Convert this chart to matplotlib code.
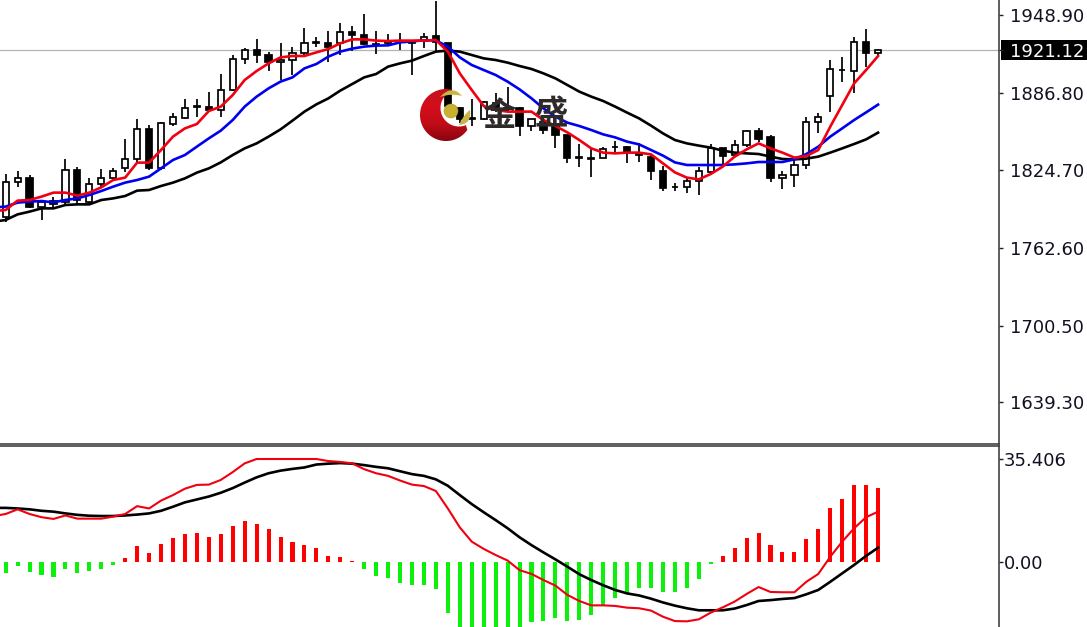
import numpy as np
import matplotlib
matplotlib.use("Agg")
import matplotlib.pyplot as plt
from matplotlib.path import Path
from matplotlib.patches import PathPatch, Circle, Rectangle
from matplotlib.transforms import blended_transform_factory

# ---------- data ----------
opens = [1787.6,1815.6,1818.5,1795.0,1799.8,1799.6,1825.2,1799.6,1813.4,1818.2,1826.8,1833.4,1857.4,1826.8,1861.7,1866.8,1875.0,1875.6,1872.6,1889.2,1913.7,1920.6,1916.6,1911.0,1913.2,
         1918.2,1926.8,1926.5,1926.8,1935.0,1933.2,1925.6,1926.2,1927.5,1927.8,1928.4,1932.1,1926.2,1874.2,1866.2,1865.4,1878.8,1874.4,1874.8,1860.1,1863.6,1860.9,1852.9,1835.2,1834.4,
         1834.8,1843.1,1843.3,1838.8,1835.6,1824.4,1811.5,1811.6,1816.4,1823.6,1842.2,1836.6,1844.9,1855.8,1851.0,1818.2,1820.6,1828.9,1863.0,1884.1,1904.9,1904.4,1927.3,1918.8]
highs = [1821.7,1824.4,1820.6,1800.9,1803.6,1834.0,1827.0,1818.8,1825.4,1826.2,1850.0,1865.4,1860.6,1863.6,1870.2,1881.7,1881.7,1887.3,1901.7,1916.6,1922.8,1929.4,1919.6,1926.5,1923.6,
         1938.2,1931.0,1935.8,1942.8,1940.1,1949.7,1936.1,1933.4,1934.8,1928.9,1934.2,1960.1,1926.8,1875.6,1881.7,1880.1,1886.2,1891.0,1875.6,1865.9,1867.6,1861.2,1853.2,1845.7,1842.2,
         1843.6,1848.4,1844.1,1846.2,1836.9,1828.1,1814.2,1818.2,1827.6,1845.4,1842.4,1848.9,1856.9,1858.8,1852.9,1824.4,1833.4,1867.0,1870.2,1912.9,1915.0,1931.0,1938.0,1922.0]
lows = [1783.6,1811.6,1794.2,1784.9,1794.2,1797.7,1797.7,1798.2,1811.6,1816.9,1823.6,1830.2,1824.9,1824.9,1860.1,1865.4,1867.6,1872.1,1867.0,1888.4,1909.7,1910.8,1904.4,1896.9,1900.9,
        1916.9,1923.0,1911.6,1916.9,1920.4,1924.9,1917.4,1924.9,1920.9,1901.2,1922.8,1919.6,1871.6,1862.2,1860.1,1864.9,1871.6,1871.6,1852.4,1856.4,1853.7,1842.8,1830.2,1827.6,1819.0,
        1834.2,1839.3,1830.2,1831.0,1816.9,1808.4,1808.4,1806.8,1804.9,1822.2,1828.1,1835.6,1843.6,1847.6,1815.0,1809.4,1811.6,1825.7,1854.2,1871.6,1895.3,1886.2,1907.6,1916.1]
closes = [1815.6,1818.5,1795.6,1799.0,1797.7,1825.2,1800.9,1813.7,1818.5,1824.4,1833.7,1857.4,1826.8,1862.2,1867.0,1874.8,1875.8,1872.6,1889.2,1913.7,1920.6,1916.6,1911.3,1913.2,1918.8,
          1926.2,1927.3,1923.3,1935.0,1932.9,1925.4,1925.2,1928.4,1927.9,1926.5,1931.6,1927.6,1876.1,1865.4,1865.8,1879.6,1872.9,1874.0,1860.1,1865.4,1856.9,1852.9,1834.2,1834.8,1834.0,
          1841.4,1843.5,1839.6,1836.6,1823.8,1810.2,1811.1,1815.8,1824.4,1842.2,1836.4,1845.2,1855.8,1850.0,1818.2,1820.9,1829.2,1863.3,1867.0,1905.4,1905.3,1927.3,1918.8,1921.12]

# moving averages (first value belongs to the bar just left of the visible window)
ma_fast = [1792.0,1792.9,1800.4,1800.9,1803.6,1806.8,1806.8,1804.4,1806.8,1811.0,1816.9,1818.8,1830.8,1830.8,1840.9,1851.6,1858.2,1861.7,1872.1,1875.6,1884.9,1896.9,1904.1,1910.2,1915.0,1916.1,
           1916.1,1919.0,1921.7,1926.2,1929.4,1929.4,1928.4,1928.1,1928.4,1928.4,1928.4,1928.9,1919.6,1902.2,1888.9,1876.1,1872.9,1871.6,1871.6,1871.6,1864.9,1860.1,1855.0,1848.9,1842.2,
           1838.8,1838.2,1838.8,1838.8,1837.4,1830.2,1823.0,1818.8,1817.4,1821.7,1827.6,1835.6,1841.4,1846.2,1842.2,1838.8,1834.8,1836.1,1840.9,1859.6,1876.9,1894.2,1904.9,1916.1]
ma_mid = [1795.0,1795.6,1798.8,1799.6,1800.1,1799.0,1800.9,1802.2,1804.9,1808.1,1811.6,1814.8,1816.9,1819.6,1826.2,1832.9,1836.9,1843.6,1850.2,1856.4,1864.9,1875.6,1883.6,1890.2,1895.6,1899.0,
          1906.2,1909.7,1915.6,1919.6,1922.0,1923.6,1924.4,1924.6,1927.0,1927.8,1928.6,1928.6,1923.6,1915.0,1908.9,1904.9,1900.9,1895.6,1889.4,1882.2,1874.2,1867.6,1862.8,1860.1,1856.9,
          1853.4,1851.0,1847.6,1845.4,1840.9,1836.4,1831.0,1828.9,1828.9,1828.9,1828.9,1829.4,1830.2,1831.3,1831.3,1831.3,1833.4,1837.7,1843.6,1851.6,1858.2,1864.9,1871.0,1877.2]
ma_slow = [1783.6,1784.9,1789.4,1791.6,1794.2,1794.2,1796.9,1797.4,1797.4,1800.9,1802.2,1804.1,1808.4,1808.9,1812.1,1814.8,1818.2,1822.8,1826.2,1831.0,1836.9,1842.2,1846.2,1851.6,1857.4,1864.4,
           1871.6,1877.4,1882.2,1888.4,1893.7,1899.0,1901.7,1907.6,1910.2,1912.4,1916.1,1919.6,1920.4,1919.6,1916.9,1914.2,1912.9,1910.8,1908.1,1905.7,1902.2,1898.2,1892.9,1887.6,1883.6,
           1880.1,1875.6,1870.8,1866.2,1860.4,1854.2,1848.9,1846.2,1844.4,1842.8,1840.4,1838.8,1838.2,1837.7,1835.6,1833.7,1833.4,1834.0,1835.6,1838.8,1842.2,1845.7,1849.4,1854.8]

hist = [-3.9,-1.4,-3.4,-4.4,-5.0,-2.3,-3.9,-3.1,-2.3,-1.0,1.4,5.5,3.0,6.2,8.4,9.5,10.0,8.7,9.5,12.4,14.1,13.2,11.2,8.7,6.8,5.8,4.7,2.2,1.8,0.5,
        -2.3,-4.8,-5.5,-7.2,-8.0,-8.0,-9.2,-17.4,-25.0,-26.0,-27.0,-27.0,-26.0,-24.0,-20.5,-20.3,-19.1,-20.2,-19.9,-18.2,-14.8,-12.5,-10.8,-8.8,-8.8,-10.2,-10.2,-8.8,-6.0,-0.8,
        2.2,4.9,8.2,9.9,5.8,3.4,3.4,7.9,11.2,18.4,21.8,26.4,26.4,25.6]
macd_red = [15.8,16.5,18.1,16.5,15.4,14.8,16.0,14.9,14.9,14.9,15.6,16.5,19.2,18.4,21.1,23.0,25.2,26.5,26.6,28.2,30.9,33.9,35.4,35.4,35.4,35.4,35.4,35.4,34.7,34.4,33.9,31.9,30.5,29.6,28.0,26.6,26.1,24.4,18.4,
            11.9,7.0,4.5,2.4,0.5,-2.8,-4.1,-6.2,-8.1,-11.3,-13.4,-14.9,-14.9,-15.1,-15.7,-15.9,-16.7,-18.8,-20.3,-20.4,-19.7,-17.4,-15.6,-13.6,-11.0,-8.6,-10.3,-10.4,-10.4,-6.8,-4.1,1.8,7.0,11.6,15.4,17.3]
macd_black = [18.6,18.6,18.4,18.1,17.6,17.3,16.7,16.2,15.9,15.8,15.8,16.0,16.3,16.7,17.6,19.0,20.5,21.5,22.5,23.8,25.4,27.3,29.1,30.5,31.4,32.0,32.5,33.5,33.8,34.0,33.8,33.3,32.7,32.2,31.2,30.2,29.6,28.4,26.2,
              23.0,19.9,17.1,14.4,11.6,8.5,5.8,3.3,0.9,-1.6,-4.2,-6.2,-8.0,-9.6,-10.8,-11.5,-12.6,-13.9,-15.0,-15.9,-16.6,-16.6,-16.6,-16.0,-14.8,-13.4,-13.1,-12.7,-12.4,-11.1,-9.6,-6.8,-3.9,-1.0,2.1,4.9]

price_ticks = [1948.90, 1921.12, 1886.80, 1824.70, 1762.60, 1700.50, 1639.30]
price_labels = ["1948.90", "1921.12", "1886.80", "1824.70", "1762.60", "1700.50", "1639.30"]
macd_ticks = [35.406, 0.0]
macd_labels = ["35.406", "0.00"]
last_price = 1921.12
watermark = ["金", "盛"]

# ---------- layout ----------
W, H = 1087, 627
fig = plt.figure(figsize=(W / 100, H / 100), dpi=100, facecolor="white")
ax = fig.add_axes([0, (H - 444) / H, 999 / W, 444 / H])
ax2 = fig.add_axes([0, 0, 999 / W, (H - 446) / H])
XLIM = (-0.4745, 83.12)
TXT = "#111122"

n = len(opens)
x = np.arange(n)
xl = np.arange(-1, n)

# ---------- price pane ----------
ax.axhline(last_price, color="#b4b4b4", lw=0.9, zorder=1)
ax.vlines(x, lows, highs, color="black", lw=1.25, zorder=2)
o, c = np.array(opens), np.array(closes)
up = c >= o
ax.bar(x[up], np.maximum(c - o, 0.1)[up], bottom=o[up], width=0.52, facecolor="white",
       edgecolor="black", lw=1.25, zorder=3)
ax.bar(x[~up], (o - c)[~up], bottom=c[~up], width=0.52, facecolor="black",
       edgecolor="black", lw=1.25, zorder=3)
ax.plot(xl, ma_slow, color="black", lw=1.9, zorder=4)
ax.plot(xl, ma_mid, color="#0000f0", lw=1.9, zorder=5)
ax.plot(xl, ma_fast, color="#f00010", lw=1.9, zorder=6)
ax.set_xlim(XLIM)
ax.set_ylim(1605.7, 1960.9)

# ---------- MACD pane ----------
h = np.array(hist)
ax2.bar(x, h, width=0.34, color=np.where(h >= 0, "#ff0000", "#0cf00c"), zorder=2)
ax2.plot(xl, macd_black, color="black", lw=1.9, zorder=3)
ax2.plot(xl, macd_red, color="#f00010", lw=1.5, zorder=4)
ax2.set_xlim(XLIM)
ax2.set_ylim((562 - 627) * 0.3437, (562 - 446) * 0.3437)

for a, ticks, labels, pad in ((ax, price_ticks, price_labels, 5), (ax2, macd_ticks, macd_labels, 0.5)):
    a.yaxis.tick_right()
    a.set_yticks(ticks)
    a.set_yticklabels(labels)
    a.tick_params(axis="y", length=3, width=1, color="#222222", labelcolor=TXT, pad=pad, labelsize=13)
    a.set_xticks([])
    a.spines["left"].set_visible(False)
    for s in ("right", "top", "bottom"):
        a.spines[s].set_color("#333333")
        a.spines[s].set_linewidth(1.1)
ax.spines["top"].set_visible(False)
ax2.spines["bottom"].set_visible(False)

for tl in ax.get_yticklabels():
    if tl.get_text() == "1921.12":
        tl.set_color("white")
ax.add_patch(Rectangle((1001 / 999, last_price - 8), 86 / 999, 16, facecolor="black", edgecolor="none",
                       transform=blended_transform_factory(ax.transAxes, ax.transData),
                       clip_on=False, zorder=0.5))

# ---------- watermark logo ----------
ov = fig.add_axes([0, 0, 1, 1], facecolor="none", zorder=10)
ov.set_xlim(0, W)
ov.set_ylim(H, 0)
ov.axis("off")


def arc(cx, cy, r, a0, a1, k=90):
    t = np.radians(np.linspace(a0, a1, k))
    return np.column_stack([cx + r * np.cos(t), cy + r * np.sin(t)])


# crescent: outer arc and inner arc between the two tips (y grows downward here)
outer = arc(446, 115, 26, 35, 282)
inner = arc(459, 108, 18.5, 220, 68)
pts = np.vstack([outer, inner])
crescent = Path(np.vstack([pts, pts[0]]), closed=True)
grad = np.linspace(0, 1, 64)[:, None]
cm = matplotlib.colors.LinearSegmentedColormap.from_list("c", ["#c4101c", "#d40e1c", "#c00c18", "#860410"])
im = ov.imshow(grad, extent=(418, 474, 142, 88), cmap=cm, aspect="auto", zorder=1, origin="upper")
im.set_clip_path(PathPatch(crescent, transform=ov.transData))
ov.set_xlim(0, W)
ov.set_ylim(H, 0)


def lens(p0, p1, c0, c1, color):
    verts = [p0, c0, p1, c1, p0]
    codes = [Path.MOVETO, Path.CURVE3, Path.CURVE3, Path.CURVE3, Path.CURVE3]
    ov.add_patch(PathPatch(Path(verts, codes), facecolor=color, edgecolor="none", zorder=2))


lens((440, 97), (462, 96), (452, 84), (451, 93), "#c9b544")
lens((459, 125), (470, 110), (472, 124), (464, 114), "#c9b544")
ov.add_patch(Circle((451, 111), 7, facecolor="#c8b030", edgecolor="#b09a20", lw=0.4, zorder=3))

for ch, px, py in zip(watermark, (499, 551), (117, 115)):
    ov.text(px, py, ch, fontsize=24, weight="bold", family=["Noto Sans CJK SC", "DejaVu Sans"],
            color="#2e2a2a", ha="center", va="center", zorder=4)

fig.savefig("out.png", dpi=100)
